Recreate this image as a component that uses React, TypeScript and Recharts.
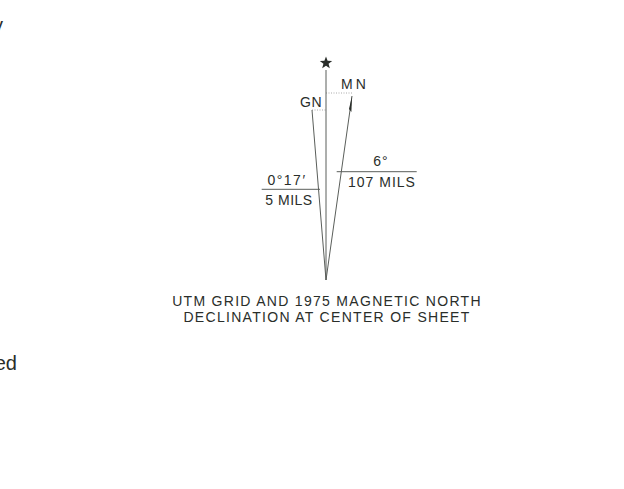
import { ReferenceLine, Scatter, ScatterChart, XAxis, YAxis } from 'recharts';

// drawing units: about 1 unit per px, origin at the foot of the needles, y pointing up
const trueNorth = [
  { x: 0, y: 0 },
  { x: 0, y: 210 },
];
const gridNorth = [
  { x: 0, y: 0 },
  { x: -14, y: 170 },
];
const magNorth = [
  { x: 0, y: 0 },
  { x: 26, y: 184 },
];
const gridTie = [
  { x: -14, y: 170 },
  { x: 0, y: 170 },
];
const magTie = [
  { x: 0, y: 187 },
  { x: 26, y: 187 },
];
const starPoint = [{ x: 0, y: 217 }];
const arrowTip = [{ x: 26, y: 184 }];

const magRule = [
  { x: 10.7, y: 108.3 },
  { x: 90.7, y: 108.3 },
];
const gridRule = [
  { x: -64.3, y: 90.7 },
  { x: -6, y: 90.7 },
];

const labels = [
  { x: -15, y: 178, text: 'GN', spacing: 0.5 },
  { x: 29, y: 196, text: 'MN', spacing: 3 },
  { x: 55, y: 119, text: '6°', spacing: 1 },
  { x: 56, y: 98, text: '107 MILS', spacing: 1 },
  { x: -39, y: 100, text: '0°17′', spacing: 1.5 },
  { x: -37, y: 80, text: '5 MILS', spacing: 0.5 },
];
const caption = [
  { x: 1, y: -20.5, text: 'UTM GRID AND 1975 MAGNETIC NORTH' },
  { x: 1, y: -36.7, text: 'DECLINATION AT CENTER OF SHEET' },
];
// words of the map sheet cut by the left edge
const edgeText = [
  { x: -323, y: 248, text: 'y' },
  { x: -309, y: -90, text: 'ed' },
];

const INK = '#2a2e2a';
const LINE = '#5a5e5a';
const FONT = '"Liberation Sans", Arial, sans-serif';

const noDot = () => <g />;

const Star = (props: any) => {
  const { cx, cy } = props;
  const pts: string[] = [];
  for (let i = 0; i < 10; i++) {
    const r = i % 2 === 0 ? 6.5 : 2.7;
    const a = -Math.PI / 2 + (i * Math.PI) / 5;
    pts.push(`${cx + r * Math.cos(a)},${cy + r * Math.sin(a)}`);
  }
  return <polygon points={pts.join(' ')} fill={INK} />;
};

// half arrowhead on the left side of the MN needle
const HalfArrow = (props: any) => {
  const { cx, cy } = props;
  return (
    <polygon
      points={`${cx},${cy} ${cx - 3},${cy + 13} ${cx - 0.6},${cy + 16}`}
      fill={INK}
    />
  );
};

const makeText = (size: number, anchor: string, central: boolean, spacing?: number) =>
  (props: any) => {
    const { cx, cy, payload } = props;
    return (
      <text
        x={cx}
        y={cy}
        textAnchor={anchor}
        dominantBaseline={central ? 'central' : 'alphabetic'}
        fontSize={size}
        fontFamily={FONT}
        fill={INK}
        letterSpacing={payload.spacing ?? spacing ?? 0}
      >
        {payload.text}
      </text>
    );
  };

export default function App() {
  return (
    <div style={{ position: 'fixed', left: 0, top: 0, width: 624, height: 489, background: '#fff' }}>
      <ScatterChart width={624} height={489} margin={{ top: 0, right: 0, bottom: 0, left: 0 }}>
        <XAxis type="number" dataKey="x" domain={[-326, 298]} hide allowDataOverflow />
        <YAxis type="number" dataKey="y" domain={[-209, 280]} hide allowDataOverflow />

        <ReferenceLine segment={magRule} stroke={LINE} strokeWidth={1} />
        <ReferenceLine segment={gridRule} stroke={LINE} strokeWidth={1} />

        <Scatter data={gridTie} line={{ stroke: '#aaa', strokeWidth: 1, strokeDasharray: '1 1.5' }} shape={noDot} isAnimationActive={false} />
        <Scatter data={magTie} line={{ stroke: '#aaa', strokeWidth: 1, strokeDasharray: '1 1.5' }} shape={noDot} isAnimationActive={false} />
        <Scatter data={trueNorth} line={{ stroke: LINE, strokeWidth: 1 }} shape={noDot} isAnimationActive={false} />
        <Scatter data={gridNorth} line={{ stroke: LINE, strokeWidth: 1 }} shape={noDot} isAnimationActive={false} />
        <Scatter data={magNorth} line={{ stroke: LINE, strokeWidth: 1 }} shape={noDot} isAnimationActive={false} />
        <Scatter data={starPoint} shape={<Star />} isAnimationActive={false} />
        <Scatter data={arrowTip} shape={<HalfArrow />} isAnimationActive={false} />

        <Scatter data={labels} shape={makeText(14, 'middle', true)} isAnimationActive={false} />
        <Scatter data={caption} shape={makeText(14, 'middle', true, 1.3)} isAnimationActive={false} />
        <Scatter data={edgeText} shape={makeText(20, 'end', false)} isAnimationActive={false} />
      </ScatterChart>
    </div>
  );
}
